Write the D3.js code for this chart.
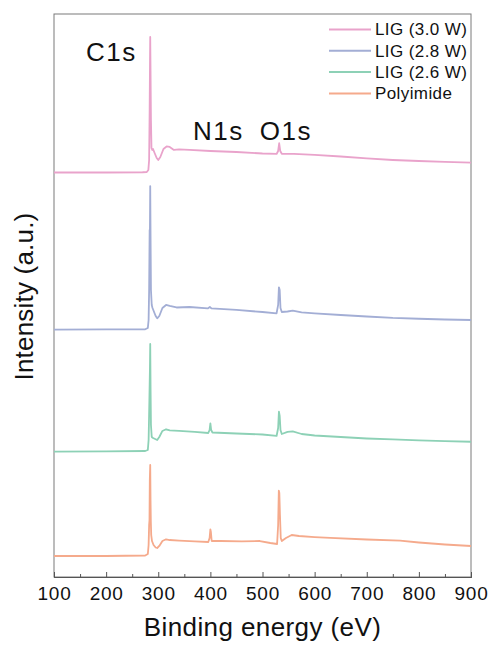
<!DOCTYPE html>
<html>
<head>
<meta charset="utf-8">
<script src="https://cdn.jsdelivr.net/npm/d3@7"></script>
<style>
  html, body { margin: 0; padding: 0; background: #fff; }
  svg { display: block; font-family: "Liberation Sans", Arial, sans-serif; }
</style>
</head>
<body>
<svg id="chart" width="491" height="645"></svg>
<script>
// XPS survey spectra: [binding energy (eV), intensity (a.u., above the spectrum's own baseline)]
const seriesNames = ["LIG (3.0 W)", "LIG (2.8 W)", "LIG (2.6 W)", "Polyimide"];
const seriesColors = ["#e9a3cb", "#a3aed5", "#8dd1b6", "#f5aa8c"];
// vertical stacking shift of each spectrum (a.u.)
const seriesOffsets = [71.85, 43.93, 22.26, 3.73];

const lig30 = [
  [100, 0], [200, 0], [270, 0.04], [278, 0.09], [281, 0.44], [282.5, 2.22],
  [283.5, 11.1], [284.2, 20.0], [284.6, 24.07], [285.2, 18.1], [286, 9.3],
  [287, 4.35], [288.5, 4.0], [290, 4.17], [293, 3.46], [297, 2.57], [300, 2.22],
  [304, 2.75], [310, 4.17], [316, 4.62], [322, 4.53], [330, 4.0], [340, 4.09],
  [360, 4.0], [400, 3.82], [450, 3.64], [500, 3.37], [527, 3.29], [530, 3.82],
  [532, 5.19], [534, 3.82], [537, 3.32], [560, 3.29], [600, 3.11], [650, 2.84],
  [700, 2.49], [750, 2.22], [800, 2.04], [850, 1.87], [900, 1.74]
];
const lig28 = [
  [100, 0], [200, 0.04], [275, 0.07], [280, 0.3], [281.5, 1.72], [282.5, 7.05],
  [283.5, 17.7], [284, 17.35], [284.6, 25.5], [285.3, 15.9], [286, 7.05],
  [287.5, 4.39], [289, 3.85], [292, 3.14], [295, 2.43], [298, 2.02], [302, 2.43],
  [308, 3.85], [315, 4.39], [322, 4.21], [335, 3.94], [360, 4.03], [395, 3.77],
  [399, 4.03], [402, 3.77], [450, 3.5], [500, 3.14], [527, 2.91], [530, 4.39],
  [531.5, 7.53], [533, 7.05], [534.5, 3.85], [537, 3.14], [548, 3.23],
  [558, 3.37], [575, 3.06], [600, 2.88], [650, 2.61], [700, 2.34], [750, 2.08],
  [800, 1.94], [850, 1.81], [900, 1.72]
];
const lig26 = [
  [100, 0], [200, 0.04], [275, 0.12], [280, 0.3], [281.5, 2.08], [283, 9.18],
  [284, 14.5], [284.6, 19.13], [285.3, 10.96], [286, 4.74], [287.5, 2.61],
  [290, 2.43], [294, 2.26], [298, 2.08], [302, 2.61], [308, 3.68], [315, 3.98],
  [322, 3.77], [340, 3.68], [370, 3.5], [396, 3.32], [398.5, 3.85], [400, 5.04],
  [401.5, 3.85], [404, 3.41], [450, 3.23], [500, 3.05], [527, 2.79], [530, 4.21],
  [531.5, 7.1], [533, 6.34], [534.5, 3.85], [537, 3.14], [548, 3.5], [558, 3.59],
  [575, 3.14], [600, 2.87], [650, 2.61], [700, 2.34], [750, 2.17], [800, 1.99],
  [850, 1.86], [900, 1.76]
];
const polyimide = [
  [100, 0], [200, 0], [275, 0.09], [280, 0.36], [281.5, 1.95], [282.5, 5.51],
  [283.2, 6.39], [283.8, 13.5], [284.6, 16.16], [285.2, 9.95], [285.8, 6.04],
  [286.5, 3.73], [288, 2.66], [291, 1.95], [295, 1.51], [298, 1.42], [302, 1.78],
  [308, 2.66], [315, 2.97], [322, 2.84], [340, 2.72], [370, 2.58], [396, 2.49],
  [398.5, 3.2], [400, 4.74], [401, 4.26], [402.5, 2.66], [420, 2.66], [460, 2.58],
  [495, 2.66], [515, 2.31], [528, 2.13], [530, 5.51], [531.3, 11.6],
  [532.3, 11.19], [533.5, 7.28], [535, 3.2], [537, 2.66], [545, 3.2], [556, 3.73],
  [570, 3.55], [600, 3.37], [630, 3.23], [700, 2.93], [764, 2.72], [800, 2.4],
  [850, 2.04], [900, 1.78]
];
const seriesData = [lig30, lig28, lig26, polyimide];

const xTicks = [100, 200, 300, 400, 500, 600, 700, 800, 900];
const xMinorTicks = [150, 250, 350, 450, 550, 650, 750, 850];

// peak annotations: [label, binding energy at label centre, intensity at label baseline]
const peakLabels = [["C1s", 210, 91.65], ["N1s", 415.5, 77.7], ["O1s", 545, 77.7]];

const margin = { left: 54, right: 20, top: 14, bottom: 68 };
const W = 491, H = 645;
const svg = d3.select("#chart");

const x = d3.scaleLinear().domain([100, 900]).range([margin.left, W - margin.right]);
const y = d3.scaleLinear().domain([0, 100]).range([H - margin.bottom, margin.top]);

// plot frame
svg.append("rect")
  .attr("x", x.range()[0]).attr("y", y.range()[1])
  .attr("width", x.range()[1] - x.range()[0])
  .attr("height", y.range()[0] - y.range()[1])
  .attr("fill", "none").attr("stroke", "#7a7a7a").attr("stroke-width", 1);

// spectra
const line = d3.line().x(d => x(d[0]));
seriesData.forEach((data, i) => {
  svg.append("path")
    .datum(data)
    .attr("fill", "none")
    .attr("stroke", seriesColors[i])
    .attr("stroke-width", 1.8)
    .attr("stroke-linejoin", "round")
    .attr("d", line.y(d => y(d[1] + seriesOffsets[i])));
});

// bottom axis, ticks pointing inward
const axisG = svg.append("g").attr("transform", `translate(0,${y.range()[0]})`);
axisG.call(d3.axisBottom(x).tickValues(xTicks).tickSize(-5).tickPadding(10).tickFormat(d3.format("d")));
axisG.append("g").call(d3.axisBottom(x).tickValues(xMinorTicks).tickSize(-3).tickFormat(""));
axisG.selectAll("path.domain").attr("stroke", "#555");
axisG.selectAll(".tick line").attr("stroke", "#555");
axisG.selectAll(".tick text")
  .attr("fill", "#111").attr("font-size", 19).attr("letter-spacing", 0.7)
  .attr("font-family", "'Liberation Sans', Arial, sans-serif");

// axis titles
svg.append("text")
  .attr("x", (x.range()[0] + x.range()[1]) / 2).attr("y", 636)
  .attr("text-anchor", "middle").attr("font-size", 26).attr("letter-spacing", 0.4)
  .attr("fill", "#111")
  .text("Binding energy (eV)");
svg.append("text")
  .attr("transform", `translate(33,${(y.range()[0] + y.range()[1]) / 2 + 1}) rotate(-90)`)
  .attr("text-anchor", "middle").attr("font-size", 26).attr("letter-spacing", 0.2)
  .attr("fill", "#111")
  .text("Intensity (a.u.)");

// peak annotations
svg.selectAll("text.peak").data(peakLabels).join("text")
  .attr("class", "peak")
  .attr("x", d => x(d[1])).attr("y", d => y(d[2]))
  .attr("text-anchor", "middle").attr("font-size", 26).attr("letter-spacing", 1.5)
  .attr("fill", "#111")
  .text(d => d[0]);

// legend
const lg = svg.append("g");
seriesNames.forEach((name, i) => {
  const cy = 29.5 + i * 21.3;
  lg.append("line").attr("x1", 329).attr("x2", 371).attr("y1", cy).attr("y2", cy)
    .attr("stroke", seriesColors[i]).attr("stroke-width", 2);
  lg.append("text").attr("x", 375).attr("y", cy).attr("dy", "0.35em")
    .attr("font-size", 17).attr("letter-spacing", 0.4).attr("fill", "#111").text(name);
});
</script>
</body>
</html>
